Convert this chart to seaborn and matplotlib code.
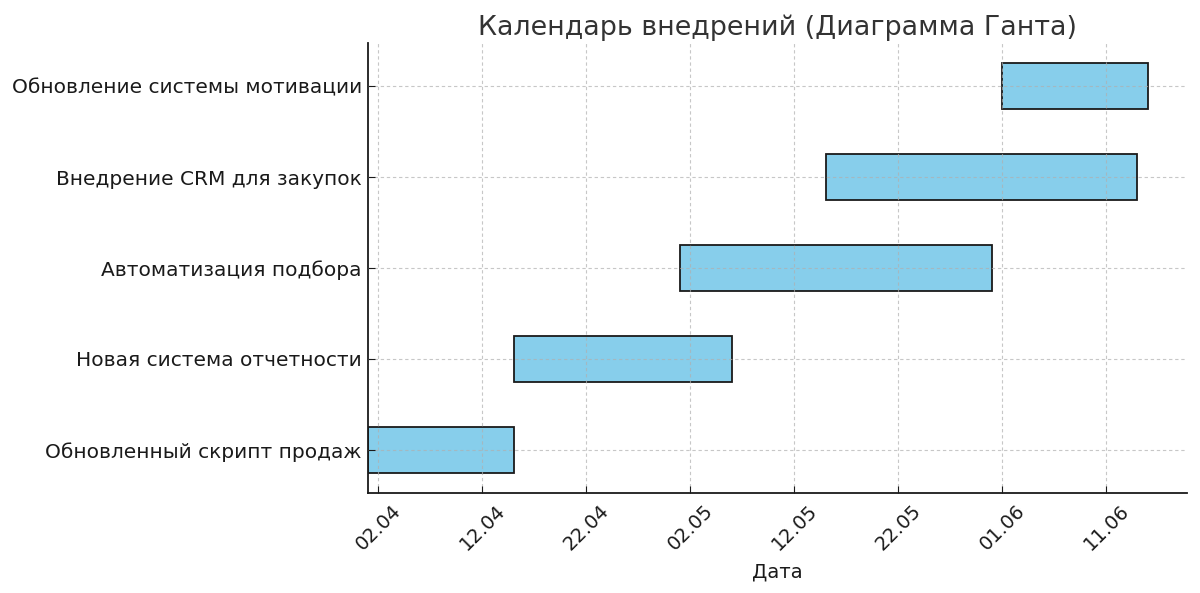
import matplotlib
matplotlib.use("Agg")
import matplotlib.pyplot as plt
import matplotlib.dates as mdates
import seaborn as sns
import pandas as pd

tasks = [
    "Обновленный скрипт продаж",
    "Новая система отчетности",
    "Автоматизация подбора",
    "Внедрение CRM для закупок",
    "Обновление системы мотивации",
]
start_dates = ["2024-04-01", "2024-04-15", "2024-05-01", "2024-05-15", "2024-06-01"]
end_dates = ["2024-04-15", "2024-05-06", "2024-05-31", "2024-06-14", "2024-06-15"]
tick_dates = ["2024-04-02", "2024-04-12", "2024-04-22", "2024-05-02",
              "2024-05-12", "2024-05-22", "2024-06-01", "2024-06-11"]
x_limits = ["2024-04-01T00:00", "2024-06-18T18:00"]

df = pd.DataFrame({"task": tasks,
                   "start": pd.to_datetime(start_dates),
                   "end": pd.to_datetime(end_dates)})
df["left"] = mdates.date2num(df["start"])
df["width"] = mdates.date2num(df["end"]) - df["left"]

sns.set_style("ticks")
plt.rcParams["font.family"] = ["DejaVu Sans"]

fig, ax = plt.subplots(figsize=(12, 5.93), dpi=100)
fig.subplots_adjust(left=0.3067, right=0.989, top=0.9275, bottom=0.1686)

ax.barh(range(len(df)), df["width"], left=df["left"], height=0.5,
        color="skyblue", edgecolor="#1a1a1a", linewidth=1.3)

ax.set_yticks(range(len(df)))
ax.set_yticklabels(df["task"], fontsize=14.5, color="#1a1a1a")
ax.xaxis_date()
ax.set_xticks(mdates.date2num(pd.to_datetime(tick_dates)))
ax.xaxis.set_major_formatter(mdates.DateFormatter("%d.%m"))
ax.set_xlim(mdates.date2num(pd.to_datetime(x_limits, format="ISO8601")))
ax.set_ylim(-0.475, len(df) - 1 + 0.475)
plt.setp(ax.get_xticklabels(), rotation=45, fontsize=14, color="#1a1a1a")

ax.set_xlabel("Дата", fontsize=14, color="#1a1a1a", labelpad=6)
ax.set_title("Календарь внедрений (Диаграмма Ганта)", fontsize=19.4, color="#333333")

ax.grid(True, linestyle=(0, (3, 2.5)), color="#b0b0b0", alpha=0.7, linewidth=0.8)
ax.set_axisbelow(False)
sns.despine(ax=ax)
for s in ("left", "bottom"):
    ax.spines[s].set_color("#1a1a1a")
    ax.spines[s].set_linewidth(1.3)
ax.tick_params(colors="#1a1a1a", length=5, direction="in", pad=4.5)
ax.tick_params(axis="x", pad=6)

fig.savefig("out.png", dpi=100)
